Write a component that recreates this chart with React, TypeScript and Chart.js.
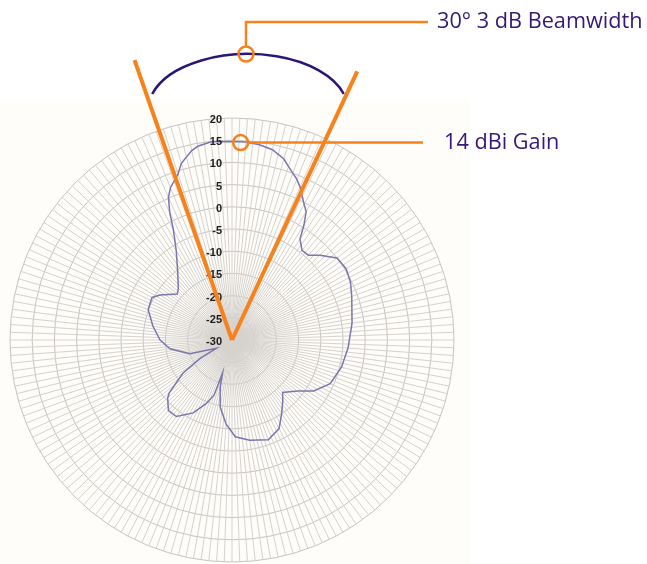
import React, { useEffect, useRef } from "react";
import { Chart, registerables } from "chart.js";

Chart.register(...registerables);

// Angle grid: one spoke every 2 degrees, clockwise from the top (0° = boresight)
const SPOKE_ANGLES: number[] = Array.from({ length: 180 }, (_, i) => i * 2);

// Measured pattern: angle (deg) -> gain (dBi)
const PATTERN_ANGLES: number[] = [
  0, 4, 8, 12, 16, 18, 22, 24, 28, 30, 32, 34, 38, 42, 46, 52, 58, 64, 70, 82,
  94, 104, 114, 122, 128, 136, 140, 146, 152, 160, 170, 178, 184, 190, 194, 196,
  198, 202, 208, 216, 222, 228, 230, 236, 240, 242, 252, 262, 270, 280, 290, 298,
  302, 310, 314, 322, 328, 332, 334, 336, 338, 342, 344, 348, 350, 354,
];
const PATTERN_GAIN: number[] = [
  14.7, 14.7, 14.4, 13.8, 12.4, 11.1, 9.0, 7.7, 4.6, 3.4, 0.6, -2.6, -4.4, -4.3, -2.5, 0.0, 0.3, -0.3, -1.3, -2.7,
  -3.8, -4.6, -5.8, -8.3, -11.3, -13.6, -12.2, -10.0, -7.4, -6.1, -7.1, -8.2, -11.0, -14.7, -19.0, -22.3,
  -17.0, -14.6, -11.4, -8.7, -8.6, -10.5, -11.6, -16.7, -21.7, -26.0, -20.0, -15.9, -13.8, -11.9, -9.9, -9.6,
  -10.9, -13.9, -13.2, -10.1, -6.3, -1.9, 2.0, 5.2, 7.0, 9.3, 11.4, 13.6, 14.3, 14.9,
];

// Radial axis (dB)
const R_MIN = -30;
const R_MAX = 20;
const R_STEP = 5;
const TICK_LABELS: number[] = [20, 15, 10, 5, 0, -5, -10, -15, -20, -25, -30];

// Annotations
const BEAM_EDGES_DEG: number[] = [-19.2, 25];
const GAIN_ANGLE_DEG = 2.5;
const GAIN_DB = 14.5;
const BEAM_TEXT = "30° 3 dB Beamwidth";
const GAIN_TEXT = "14 dBi Gain";

const ORANGE = "#f7821b";
const PURPLE = "#351878";

const overlayPlugin = {
  id: "overlay",
  beforeDraw(chart: any) {
    const ctx = chart.ctx;
    ctx.save();
    ctx.fillStyle = "#ffffff";
    ctx.fillRect(0, 0, chart.width, chart.height);
    ctx.fillStyle = "#fefdfa";
    ctx.fillRect(0, 100, 470, chart.height - 100);
    ctx.restore();
  },
  afterDraw(chart: any) {
    const ctx = chart.ctx;
    const s = chart.scales.r;
    const cx = s.xCenter;
    const cy = s.yCenter;
    const R = s.drawingArea;
    ctx.save();

    // tick labels along the vertical axis
    ctx.font = "bold 11px 'Liberation Sans', Arial, sans-serif";
    ctx.fillStyle = "#1c1c1c";
    ctx.textAlign = "right";
    ctx.textBaseline = "middle";
    TICK_LABELS.forEach((v) => {
      const d = s.getDistanceFromCenterForValue(v);
      ctx.fillText(String(v), cx - 10, cy - d + 2);
    });

    // beamwidth arc
    ctx.strokeStyle = "#2b1677";
    ctx.lineWidth = 2.5;
    ctx.beginPath();
    ctx.ellipse(cx + 16, cy - 230, 100, 56, 0, Math.PI + 0.29, 2 * Math.PI - 0.29);
    ctx.stroke();

    // beam edge lines
    ctx.strokeStyle = ORANGE;
    ctx.lineWidth = 4;
    ctx.lineCap = "butt";
    BEAM_EDGES_DEG.forEach((deg) => {
      const a = (deg * Math.PI) / 180;
      const L = R * 1.335;
      ctx.beginPath();
      ctx.moveTo(cx, cy);
      ctx.lineTo(cx + L * Math.sin(a), cy - L * Math.cos(a));
      ctx.stroke();
    });

    // beam circle + leader
    const bx = cx + 14;
    const by = cy - 286;
    ctx.lineWidth = 2.5;
    ctx.beginPath();
    ctx.arc(bx, by, 7.5, 0, Math.PI * 2);
    ctx.stroke();
    ctx.beginPath();
    ctx.moveTo(bx, by - 7.5);
    ctx.lineTo(bx, 22);
    ctx.lineTo(428, 22);
    ctx.stroke();

    // gain circle + leader
    const ga = (GAIN_ANGLE_DEG * Math.PI) / 180;
    const gd = s.getDistanceFromCenterForValue(GAIN_DB);
    const gx = cx + gd * Math.sin(ga);
    const gy = cy - gd * Math.cos(ga);
    ctx.beginPath();
    ctx.arc(gx, gy, 7.5, 0, Math.PI * 2);
    ctx.stroke();
    ctx.beginPath();
    ctx.moveTo(gx + 7.5, gy);
    ctx.lineTo(423, gy);
    ctx.stroke();

    // texts
    ctx.fillStyle = PURPLE;
    ctx.textAlign = "left";
    ctx.textBaseline = "middle";
    ctx.font = "21.7px 'Open Sans', sans-serif";
    ctx.fillText(BEAM_TEXT, 437, 22);
    ctx.fillText(GAIN_TEXT, 444, gy);
    ctx.restore();
  },
};

export default function App() {
  const ref = useRef<HTMLCanvasElement | null>(null);
  useEffect(() => {
    if (!ref.current) return;
    const data = SPOKE_ANGLES.map((ang) => {
      const i = PATTERN_ANGLES.indexOf(ang);
      return i >= 0 ? PATTERN_GAIN[i] : null;
    });
    const chart = new Chart(ref.current, {
      type: "radar",
      data: {
        labels: SPOKE_ANGLES.map((a) => `${a}°`),
        datasets: [
          {
            data,
            borderColor: "#7b76ac",
            borderWidth: 1.5,
            pointRadius: 0,
            pointHoverRadius: 0,
            fill: false,
            spanGaps: true,
            tension: 0,
          },
        ],
      },
      options: {
        responsive: false,
        animation: false,
        devicePixelRatio: 1,
        layout: { padding: { left: 10, top: 118, right: 193, bottom: 2 } },
        plugins: { legend: { display: false }, tooltip: { enabled: false } },
        scales: {
          r: {
            min: R_MIN,
            max: R_MAX,
            ticks: { display: false, stepSize: R_STEP },
            grid: { circular: true, color: "#c8c3bf", lineWidth: 1 },
            angleLines: { display: true, color: "#d6d2ce", lineWidth: 1 },
            pointLabels: { display: false },
          },
        },
      },
      plugins: [overlayPlugin],
    });
    return () => chart.destroy();
  }, []);
  return (
    <div style={{ position: "absolute", left: 0, top: 0, width: 647, height: 564 }}>
      <canvas ref={ref} width={647} height={564} />
    </div>
  );
}
